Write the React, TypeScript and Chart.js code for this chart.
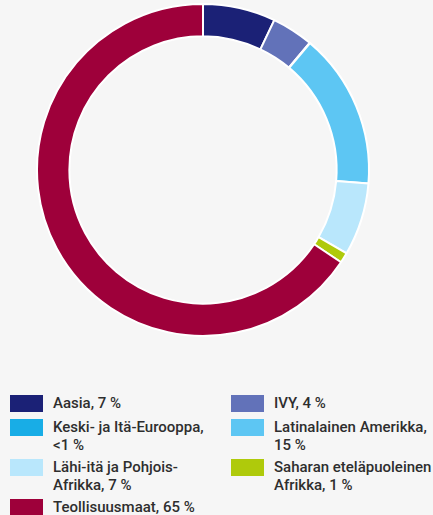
import React, { useEffect, useRef } from "react";
import { Chart, registerables } from "chart.js";

Chart.register(...registerables);

const labels = [
  "Aasia",
  "IVY",
  "Keski- ja Itä-Eurooppa",
  "Latinalainen Amerikka",
  "Lähi-itä ja Pohjois-Afrikka",
  "Saharan eteläpuoleinen Afrikka",
  "Teollisuusmaat",
];
const values = [7, 4, 0.05, 15, 7, 1, 65];
const colors = ["#1b2176", "#6272b9", "#18ade6", "#5dc6f3", "#b9e7fc", "#afca0b", "#9e003a"];

// legend entries in display order (two columns), text lines
const legendItems: { color: string; lines: string[] }[] = [
  { color: colors[0], lines: ["Aasia, 7 %"] },
  { color: colors[1], lines: ["IVY, 4 %"] },
  { color: colors[2], lines: ["Keski- ja Itä-Eurooppa,", "<1 %"] },
  { color: colors[3], lines: ["Latinalainen Amerikka,", "15 %"] },
  { color: colors[4], lines: ["Lähi-itä ja Pohjois-", "Afrikka, 7 %"] },
  { color: colors[5], lines: ["Saharan eteläpuoleinen", "Afrikka, 1 %"] },
  { color: colors[6], lines: ["Teollisuusmaat, 65 %"] },
];

const rowTops = [395, 419, 459, 499];

export default function App() {
  const ref = useRef<HTMLCanvasElement>(null);
  useEffect(() => {
    document.body.style.margin = "0";
    const chart = new Chart(ref.current!, {
      type: "doughnut",
      data: {
        labels,
        datasets: [
          {
            data: values,
            backgroundColor: colors,
            borderColor: "#ffffff",
            borderWidth: 2,
          },
        ],
      },
      options: {
        animation: false,
        responsive: false,
        cutout: "80.5%",
        layout: { padding: 0 },
        plugins: { legend: { display: false }, tooltip: { enabled: false } },
      },
    });
    return () => chart.destroy();
  }, []);

  return (
    <div
      style={{
        position: "fixed",
        left: 0,
        top: 0,
        width: 433,
        height: 515,
        background: "#f6f6f6",
        fontFamily: "Roboto, 'Noto Sans', sans-serif",
        overflow: "hidden",
      }}
    >
      <canvas ref={ref} width={406} height={334} style={{ position: "absolute", left: 0, top: 3 }} />
      {legendItems.map((it, i) => {
        const col = i % 2;
        const row = Math.floor(i / 2);
        const left = col === 0 ? 10 : 231;
        return (
          <div key={i} style={{ position: "absolute", left, top: rowTops[row] }}>
            <div
              style={{
                position: "absolute",
                left: 0,
                top: 0,
                width: 33,
                height: 17,
                background: it.color,
              }}
            />
            <div
              style={{
                position: "absolute",
                left: 43,
                top: -1,
                whiteSpace: "nowrap",
                fontSize: 15,
                fontWeight: 500,
                lineHeight: "18px",
                color: "#2e2e2e",
              }}
            >
              {it.lines.map((l, j) => (
                <div key={j}>{l}</div>
              ))}
            </div>
          </div>
        );
      })}
    </div>
  );
}
